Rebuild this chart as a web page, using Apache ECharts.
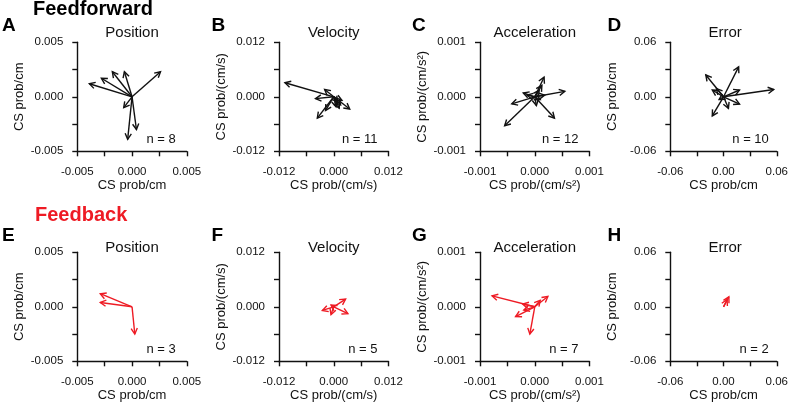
<!DOCTYPE html>
<html>
<head>
<meta charset="utf-8">
<script src="https://cdn.jsdelivr.net/npm/echarts@6/dist/echarts.min.js"></script>
<style>html,body{margin:0;padding:0;background:#fff}#c{width:791px;height:405px}</style>
</head>
<body>
<div id="c"></div>
<script>
// ---- data (vector end points, [x, y]) ----
var ffPosition = [[-0.0039,0.0012],[-0.0028,0.0017],[-0.0018,0.0023],[-0.0007,0.0023],[0.0026,0.0023],[-0.00076,-0.001],[0.0004,-0.003],[-0.0004,-0.0039]];
var ffVelocity = [[-0.0107,0.0031],[-0.004,-0.0004],[-0.002,0.0016],[-0.0036,-0.0047],[0.0035,-0.0027],[0.0008,-0.0012],[0.0015,-0.0018],[0.0005,-0.0022],[0.0018,-0.0008],[0.0012,-0.0025],[-0.0018,-0.003]];
var ffAcceleration = [[-0.00055,-0.00053],[-0.00042,-0.00013],[0.00055,0.0001],[0.00017,0.00036],[0.00036,-0.00039],[0.00013,0.00021],[-0.00021,0.00007],[0.00003,-0.00016],[0.00018,0.00003],[-0.00014,0.00003],[0.00008,0.00012],[0.0001,-0.00005]];
var ffError = [[0.0565,0.008],[0.017,0.033],[-0.02,0.024],[-0.0127,-0.021],[0.018,-0.008],[0.018,0.0075],[0.0055,-0.0127],[-0.0127,0.0075],[-0.008,0.009],[-0.005,-0.003]];
var fbPosition = [[-0.0029,0.0012],[-0.0029,0.0004],[0.00025,-0.0025]];
var fbVelocity = [[0.0026,0.0017],[0.0031,-0.0015],[-0.0025,-0.0008],[-0.0006,-0.0017],[-0.0006,0.0004]];
var fbAcceleration = [[-0.00078,0.0002],[-0.00035,-0.00018],[-0.00009,-0.0005],[0.00024,0.00019],[0.0001,0.00012],[-0.00022,0.00005],[-0.0002,-0.00006]];
var fbError = [[0.006,0.011],[0.004,0.008]];

var panelLetters = ['A','B','C','D','E','F','G','H'];
var panelTitles = ['Position','Velocity','Acceleration','Error','Position','Velocity','Acceleration','Error'];
var axisLimits = [0.005, 0.012, 0.001, 0.06];
var tickLabels = [
  ['-0.005','0.000','0.005'],
  ['-0.012','0.000','0.012'],
  ['-0.001','0.000','0.001'],
  ['-0.06','0.00','0.06']
];
var axisNames = ['CS prob/cm','CS prob/(cm/s)','CS prob/(cm/s\u00B2)','CS prob/cm'];
var rowLabels = ['Feedforward','Feedback'];
var datasets = [ffPosition, ffVelocity, ffAcceleration, ffError, fbPosition, fbVelocity, fbAcceleration, fbError];

// ---- layout ----
var FONT = '"Liberation Sans", Arial, sans-serif';
var colLeft = [77.3, 279, 480, 670.3];
var rowTop = [42.3, 252.3];
var W = 109.5, H = 109;
var BLACK = '#111', RED = '#ee1b24';

var grids = [], xAxes = [], yAxes = [], series = [], graphics = [];

function fmtFactory(c, L){
  return function(v){
    if (Math.abs(v) < L*1e-6) return tickLabels[c][1];
    if (Math.abs(v + L) < L*1e-6) return tickLabels[c][0];
    if (Math.abs(v - L) < L*1e-6) return tickLabels[c][2];
    return '';
  };
}

function arrowRenderer(color){
  return function(params, api){
    var o = api.coord([0,0]);
    var p = api.coord([api.value(0), api.value(1)]);
    var ang = Math.atan2(p[1]-o[1], p[0]-o[0]);
    var Lh = 6.5, a = 0.5;
    var h1 = [p[0]-Lh*Math.cos(ang-a), p[1]-Lh*Math.sin(ang-a)];
    var h2 = [p[0]-Lh*Math.cos(ang+a), p[1]-Lh*Math.sin(ang+a)];
    return {type:'group', children:[
      {type:'line', shape:{x1:o[0],y1:o[1],x2:p[0],y2:p[1]}, style:{stroke:color, lineWidth:1.4}},
      {type:'polyline', shape:{points:[h1,p,h2]}, style:{stroke:color, fill:null, lineWidth:1.4}}
    ]};
  };
}

for (var i = 0; i < 8; i++){
  var r = Math.floor(i/4), c = i % 4, L = axisLimits[c];
  var color = r === 0 ? BLACK : RED;
  grids.push({left: colLeft[c], top: rowTop[r], width: W, height: H, containLabel:false});
  var axisCommon = {
    gridIndex: i, type:'value', min:-L, max:L, interval:L/2,
    axisLine:{show:true, onZero:false, lineStyle:{color:BLACK, width:1.4}},
    axisTick:{show:true, length:5, inside:false, lineStyle:{color:BLACK, width:1.4}},
    splitLine:{show:false},
    axisLabel:{color:BLACK, fontSize:11.5, fontFamily:FONT, showMinLabel:true, showMaxLabel:true, hideOverlap:false},
    name: axisNames[c], nameLocation:'middle',
    nameTextStyle:{color:BLACK, fontSize:13, fontFamily:FONT}
  };
  var xa = JSON.parse(JSON.stringify(axisCommon));
  xa.axisLabel.formatter = fmtFactory(c, L); xa.axisLabel.margin = 15; xa.nameGap = 27;
  var ya = JSON.parse(JSON.stringify(axisCommon));
  ya.axisLabel.formatter = fmtFactory(c, L); ya.axisLabel.margin = 14; ya.nameGap = 51;
  xAxes.push(xa); yAxes.push(ya);
  series.push({
    type:'custom', xAxisIndex:i, yAxisIndex:i, clip:false, silent:true,
    renderItem: arrowRenderer(color),
    data: datasets[i]
  });
  graphics.push({type:'text', x: [2, 211.5, 412, 607.5][c], y: r === 0 ? 25.5 : 236,
    style:{text: panelLetters[i], font:'bold 19px ' + FONT, fill:'#000', verticalAlign:'middle', align:'left'}});
  graphics.push({type:'text', x: colLeft[c] + W/2, y: r === 0 ? 32.5 : 247.5,
    style:{text: panelTitles[i], font:'15px ' + FONT, fill:BLACK, align:'center', verticalAlign:'middle'}});
  graphics.push({type:'text', x: colLeft[c] + W - 11, y: rowTop[r] + H - 11.5,
    style:{text: 'n = ' + datasets[i].length, font:'13px ' + FONT, fill:BLACK, align:'right', verticalAlign:'middle'}});
}
graphics.push({type:'text', x: 33, y: 9.5, style:{text: rowLabels[0], font:'bold 20px ' + FONT, fill:'#000', align:'left', verticalAlign:'middle'}});
graphics.push({type:'text', x: 35, y: 215.5, style:{text: rowLabels[1], font:'bold 20px ' + FONT, fill:RED, align:'left', verticalAlign:'middle'}});

var chart = echarts.init(document.getElementById('c'), null, {renderer:'canvas'});
chart.setOption({
  animation:false,
  backgroundColor:'#fff',
  grid: grids, xAxis: xAxes, yAxis: yAxes, series: series, graphic: graphics
});
</script>
</body>
</html>
